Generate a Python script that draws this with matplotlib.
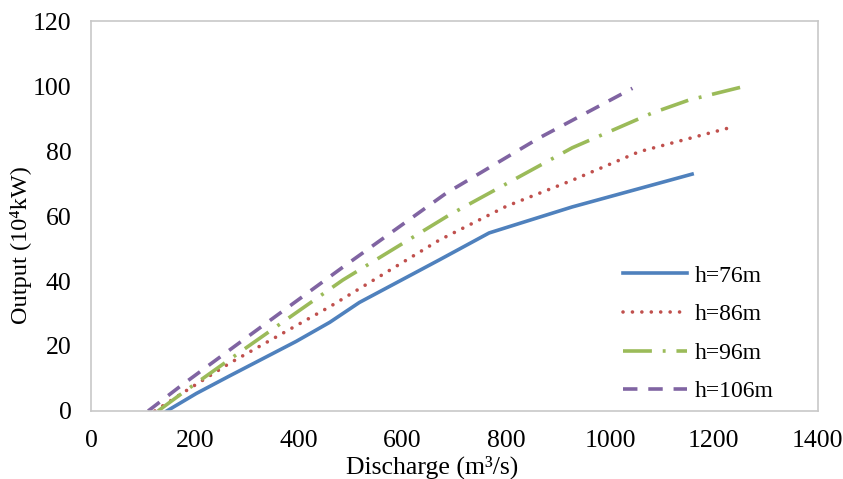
import matplotlib
matplotlib.use("Agg")
import matplotlib.pyplot as plt

plt.rcParams['font.family'] = ['Liberation Serif', 'DejaVu Serif']

# values
q76 = [146, 203, 267, 395, 460, 517, 671, 767, 927, 1158]
p76 = [0, 5.4, 10.8, 21.4, 27.3, 33.4, 46.5, 54.8, 62.8, 72.9]

q86 = [123, 171, 267, 460, 671, 800, 927, 1056, 1238]
p86 = [0, 5, 14.7, 32.1, 52.6, 63, 71, 79.8, 87.5]

q96 = [129, 180, 293, 485, 690, 927, 1081, 1152, 1261]
p96 = [0, 6, 18.8, 40.3, 60.3, 81, 91.7, 95.7, 100]

q106 = [110, 171, 280, 482, 684, 863, 1043]
p106 = [0, 7.5, 20.3, 43.9, 67, 84, 99.3]

labels = ["h=76m", "h=86m", "h=96m", "h=106m"]
xticks = [0, 200, 400, 600, 800, 1000, 1200, 1400]
yticks = [0, 20, 40, 60, 80, 100, 120]

fig = plt.figure(figsize=(8.43, 4.79), dpi=100)
ax = fig.add_axes([0.108, 0.142, 0.862, 0.814])

lw = 2.6
ax.plot(q76, p76, color="#4F81BD", lw=lw, label=labels[0])
ax.plot(q86, p86, color="#C0504D", lw=lw, dashes=(0.01, 2.6),
        dash_capstyle="round", label=labels[1])
ax.plot(q96, p96, color="#9BBB59", lw=lw, dashes=(8, 3, 0.8, 3), label=labels[2])
ax.plot(q106, p106, color="#8064A2", lw=lw, dashes=(4, 3), label=labels[3])

ax.set_xlim(0, 1400)
ax.set_ylim(0, 120)
ax.set_xticks(xticks)
ax.set_yticks(yticks)
ax.tick_params(length=0, labelsize=18.5, pad=14)
for s in ax.spines.values():
    s.set_color("#C8C8C8")
    s.set_linewidth(1.2)

ax.set_xlabel("Discharge (m³/s)", fontsize=18.5)
ax.set_ylabel("Output (10⁴kW)", fontsize=17.5)
ax.xaxis.set_label_coords(0.47, -0.115)
ax.yaxis.set_label_coords(-0.081, 0.426)

ax.legend(loc="center left", bbox_to_anchor=(0.732, 0.198), frameon=False,
          fontsize=17, handlelength=2.7, handletextpad=0.35,
          labelspacing=0.72, borderpad=0, borderaxespad=0)

fig.savefig("out.png", dpi=100)
